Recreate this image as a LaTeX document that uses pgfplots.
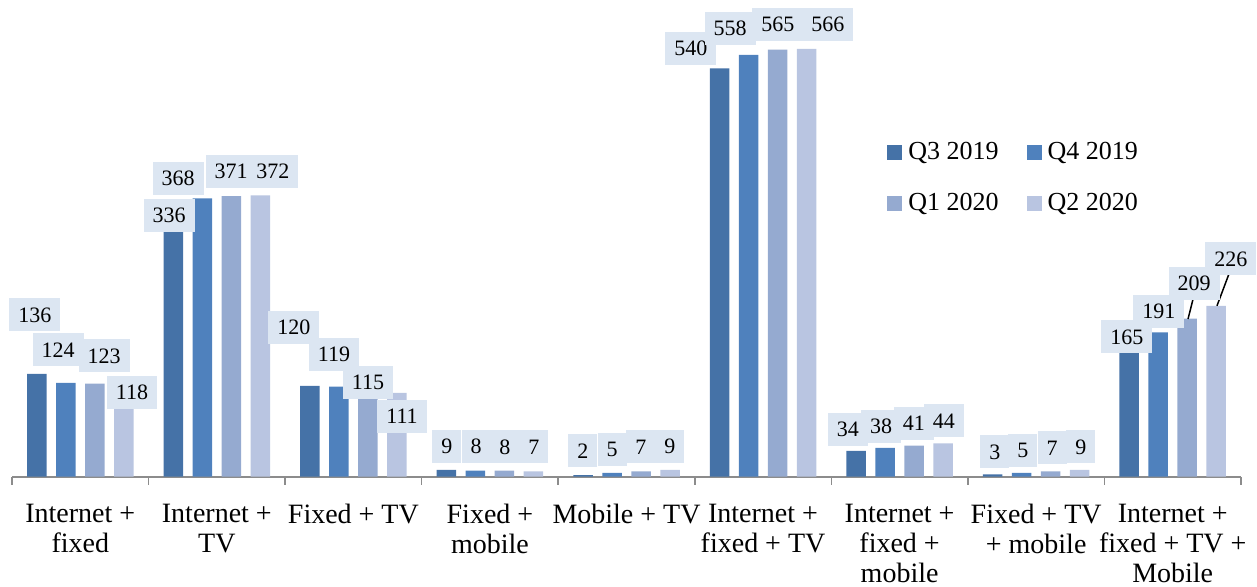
\documentclass[border=0pt]{standalone}
\usepackage{fontspec}
\setmainfont{Liberation Serif}
\usepackage{pgfplots}
\pgfplotsset{compat=1.18}
\definecolor{qa}{HTML}{4572A7}
\definecolor{qb}{HTML}{4F81BD}
\definecolor{qc}{HTML}{95AAD0}
\definecolor{qd}{HTML}{B9C5E1}
\definecolor{lblfill}{HTML}{DCE6F2}
\definecolor{axgray}{HTML}{8C8C8C}
\tikzset{lbl/.style={fill=lblfill, font=\fontsize{11}{13}\selectfont, inner xsep=4.5pt, inner ysep=0pt,
        text height=7.5pt, text depth=0pt, minimum height=16.5pt, anchor=center}}
\begin{document}
\begin{tikzpicture}
\path[use as bounding box] (0,0) rectangle (628.5pt,293.5pt);
\begin{axis}[
    at={(6pt,55.15pt)}, anchor=south west,
    scale only axis, width=614.5pt, height=226.8pt,
    xmin=-0.5, xmax=8.5, ymin=0, ymax=600,
    clip=false,
    ybar, bar width=9.75pt,
    axis x line*=bottom, axis y line=none,
    axis line style={axgray, line width=1pt},
    xtick={0,...,8},
    xticklabels={{Internet +\\fixed},{Internet +\\TV},{Fixed + TV},{Fixed +\\mobile},{Mobile + TV},{Internet +\\fixed + TV},{Internet +\\fixed +\\mobile},{Fixed + TV\\+ mobile},{Internet +\\fixed + TV +\\Mobile}},
    xticklabel style={font=\fontsize{14}{15}\selectfont, align=center, inner sep=0pt, anchor=north, yshift=-13.3pt},
    major tick length=0pt,
    minor xtick={-0.5,0.5,...,8.5},
    minor tick length=4pt,
    tick align=outside,
    minor tick style={axgray, line width=0.8pt},
    legend columns=2,
    legend style={draw=none, fill=none, inner sep=0pt,
        at={(axis cs:5.907,444.3)}, anchor=north west,
        nodes={inner sep=0pt, text height=9pt, text depth=2.5pt, font=\fontsize{13}{15}\selectfont},
        /tikz/every odd column/.append style={column sep=3pt},
        /tikz/every even column/.append style={column sep=14pt},
        row sep=14pt},
    legend image code/.code={\fill[#1] (0pt,-3.75pt) rectangle (7.5pt,3.75pt);},
]
\addplot[fill=qa, draw=none, bar shift=-21.75pt] coordinates {(0,136) (1,336) (2,120) (3,9) (4,2) (5,540) (6,34) (7,3) (8,165)};
\addplot[fill=qb, draw=none, bar shift=-7.25pt] coordinates {(0,124) (1,368) (2,119) (3,8) (4,5) (5,558) (6,38) (7,5) (8,191)};
\addplot[fill=qc, draw=none, bar shift=7.25pt] coordinates {(0,123) (1,371) (2,115) (3,8) (4,7) (5,565) (6,41) (7,7) (8,209)};
\addplot[fill=qd, draw=none, bar shift=21.75pt] coordinates {(0,118) (1,372) (2,111) (3,7) (4,9) (5,566) (6,44) (7,9) (8,226)};
\legend{Q3 2019, Q4 2019, Q1 2020, Q2 2020}
% leader lines
\draw[black, line width=0.75pt] (axis cs:8.112,208.6) -- (axis cs:8.156,240);
\draw[black, line width=0.75pt] (axis cs:8.324,226) -- (axis cs:8.426,275);
% data labels
\node[lbl] at (axis cs:-0.332,214) {136};
\node[lbl] at (axis cs:-0.163,167.6) {124};
\node[lbl] at (axis cs:0.174,159.7) {123};
\node[lbl] at (axis cs:0.379,112) {118};
\node[lbl] at (axis cs:0.650,346) {336};
\node[lbl] at (axis cs:0.716,395) {368};
\node[lbl] at (axis cs:1.104,404) {371};
\node[lbl] at (axis cs:1.411,404) {372};
\node[lbl] at (axis cs:1.565,198) {120};
\node[lbl] at (axis cs:1.858,162) {119};
\node[lbl] at (axis cs:2.107,125) {115};
\node[lbl] at (axis cs:2.356,80) {111};
\node[lbl] at (axis cs:2.685,40.6) {9};
\node[lbl] at (axis cs:2.898,40.6) {8};
\node[lbl] at (axis cs:3.110,39.3) {8};
\node[lbl] at (axis cs:3.322,39.3) {7};
\node[lbl] at (axis cs:3.681,34) {2};
\node[lbl] at (axis cs:3.894,36.6) {5};
\node[lbl] at (axis cs:4.106,39.3) {7};
\node[lbl] at (axis cs:4.318,40.6) {9};
\node[lbl] at (axis cs:4.472,567) {540};
\node[lbl] at (axis cs:4.758,593.5) {558};
\node[lbl] at (axis cs:5.109,598.8) {565};
\node[lbl] at (axis cs:5.475,598.8) {566};
\node[lbl] at (axis cs:5.622,63) {34};
\node[lbl] at (axis cs:5.864,67) {38};
\node[lbl] at (axis cs:6.105,71) {41};
\node[lbl] at (axis cs:6.325,73.7) {44};
\node[lbl] at (axis cs:6.698,32.7) {3};
\node[lbl] at (axis cs:6.903,35.3) {5};
\node[lbl] at (axis cs:7.116,38) {7};
\node[lbl] at (axis cs:7.328,39.3) {9};
\node[lbl] at (axis cs:7.665,184.8) {165};
\node[lbl] at (axis cs:7.899,219) {191};
\node[lbl] at (axis cs:8.156,256) {209};
\node[lbl] at (axis cs:8.426,288) {226};
\end{axis}
\end{tikzpicture}
\end{document}
